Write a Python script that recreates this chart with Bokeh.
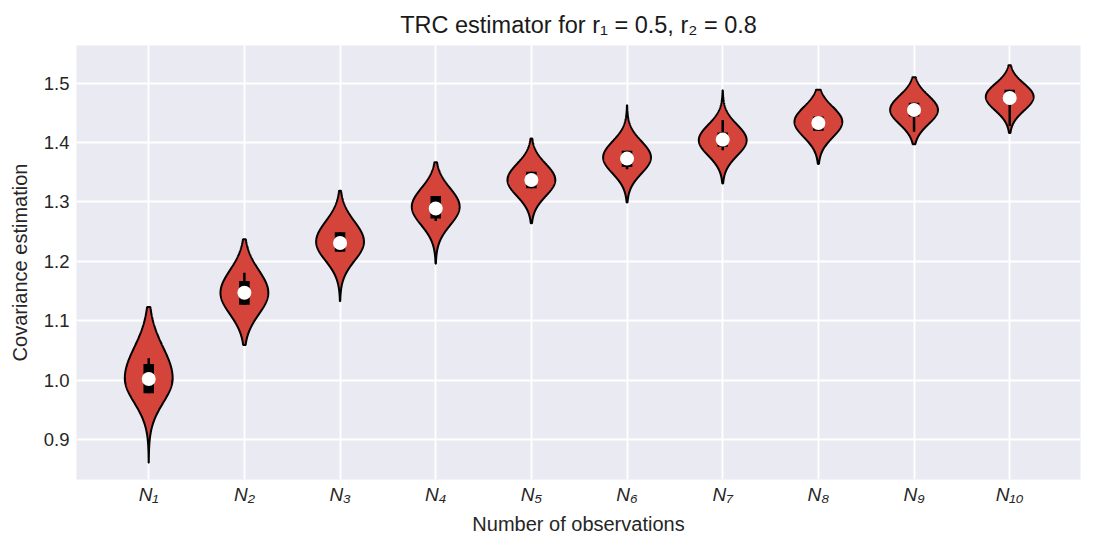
import numpy as np
from bokeh.plotting import figure
from bokeh.models import FixedTicker, Range1d, ColumnDataSource
from bokeh.embed import file_html
from bokeh.resources import INLINE

# ---- data ----
positions = [1, 2, 3, 4, 5, 6, 7, 8, 9, 10]
tick_labels = ["N₁", "N₂", "N₃", "N₄", "N₅", "N₆", "N₇", "N₈", "N₉", "N₁₀"]
mode = [1.003, 1.147, 1.233, 1.292, 1.337, 1.375, 1.404, 1.435, 1.455, 1.477]
vmin = [0.861, 1.059, 1.133, 1.196, 1.264, 1.299, 1.331, 1.364, 1.397, 1.416]
vmax = [1.123, 1.237, 1.319, 1.367, 1.407, 1.463, 1.488, 1.489, 1.510, 1.530]
spread_up = [0.052, 0.038, 0.034, 0.031, 0.027, 0.027, 0.026, 0.025, 0.024, 0.022]
spread_dn = [0.041, 0.036, 0.032, 0.031, 0.027, 0.027, 0.026, 0.026, 0.024, 0.023]
median = [1.002, 1.147, 1.231, 1.289, 1.337, 1.373, 1.405, 1.433, 1.455, 1.475]
q1 = [0.978, 1.127, 1.216, 1.272, 1.323, 1.359, 1.393, 1.420, 1.444, 1.466]
q3 = [1.027, 1.167, 1.249, 1.310, 1.351, 1.386, 1.417, 1.444, 1.467, 1.489]
whisk_lo = [0.978, 1.127, 1.216, 1.268, 1.323, 1.355, 1.387, 1.420, 1.418, 1.428]
whisk_hi = [1.037, 1.181, 1.249, 1.310, 1.351, 1.386, 1.438, 1.444, 1.467, 1.489]
y_ticks = [0.9, 1.0, 1.1, 1.2, 1.3, 1.4, 1.5]
y_tick_labels = ["0.9", "1.0", "1.1", "1.2", "1.3", "1.4", "1.5"]

FONT = "Liberation Sans"
VIOLIN_COLOR = "#d5443b"
HALF_WIDTH = 0.25

# violin outlines (density-shaped profiles)
xs, ys = [], []
for pos, m, lo, hi, su, sd in zip(positions, mode, vmin, vmax, spread_up, spread_dn):
    yy = np.linspace(lo, hi, 300)
    sig = np.where(yy >= m, su, sd)
    hw = HALF_WIDTH * np.exp(-0.5 * ((yy - m) / sig) ** 2)
    xs.append(list(np.concatenate([pos + hw, (pos - hw)[::-1]])))
    ys.append(list(np.concatenate([yy, yy[::-1]])))

p = figure(
    frame_width=1004, frame_height=434,
    x_range=Range1d(0.245, 10.74), y_range=Range1d(0.8327, 1.5634),
    output_backend="svg", toolbar_location=None,
    min_border_left=76, min_border_right=15, min_border_top=45, min_border_bottom=71,
    title="TRC estimator for r₁ = 0.5, r₂ = 0.8",
)
p.background_fill_color = "#EAEAF2"
p.border_fill_color = "white"
p.outline_line_color = None

p.title.align = "center"
p.title.text_font = FONT
p.title.text_font_size = "23.5px"
p.title.text_font_style = "normal"
p.title.text_color = "#1a1a1a"
p.title.standoff = 16

for ax in (p.xaxis[0], p.yaxis[0]):
    ax.axis_line_color = None
    ax.major_tick_line_color = None
    ax.minor_tick_line_color = None
    ax.major_tick_out = 0
    ax.major_tick_in = 0
    ax.minor_tick_out = 0
    ax.minor_tick_in = 0
    ax.major_label_text_font = FONT
    ax.major_label_text_font_size = "18.5px"
    ax.major_label_text_color = "#262626"
    ax.axis_label_text_font = FONT
    ax.axis_label_text_font_size = "20px"
    ax.axis_label_text_font_style = "normal"
    ax.axis_label_text_color = "#262626"

p.xaxis.ticker = FixedTicker(ticks=positions)
p.xaxis.major_label_overrides = {pos: lab for pos, lab in zip(positions, tick_labels)}
p.xaxis.major_label_text_font_style = "italic"
p.xaxis.major_label_text_font_size = "19px"
p.xaxis.major_label_standoff = 4
p.xaxis.axis_label = "Number of observations"
p.xaxis.axis_label_standoff = 5

p.yaxis.ticker = FixedTicker(ticks=y_ticks)
p.yaxis.major_label_overrides = {t: lab for t, lab in zip(y_ticks, y_tick_labels)}
p.yaxis.major_label_standoff = 7
p.yaxis.axis_label = "Covariance estimation"
p.yaxis.axis_label_standoff = 10

p.xgrid.ticker = FixedTicker(ticks=positions)
p.ygrid.ticker = FixedTicker(ticks=y_ticks)
for g in (p.xgrid[0], p.ygrid[0]):
    g.grid_line_color = "white"
    g.grid_line_width = 1.8

p.patches(xs, ys, fill_color=VIOLIN_COLOR, fill_alpha=1.0, line_color="black", line_width=2.0)

src = ColumnDataSource(dict(x=positions, q1=q1, q3=q3, lo=whisk_lo, hi=whisk_hi, med=median))
p.segment(x0="x", y0="lo", x1="x", y1="hi", source=src, line_color="black", line_width=2.5)
p.vbar(x="x", width=0.11, bottom="q1", top="q3", source=src, fill_color="black", line_color=None)
p.scatter(x="x", y="med", source=src, size=14, fill_color="white", line_color=None)

open("out.html", "w").write(file_html(p, INLINE))
